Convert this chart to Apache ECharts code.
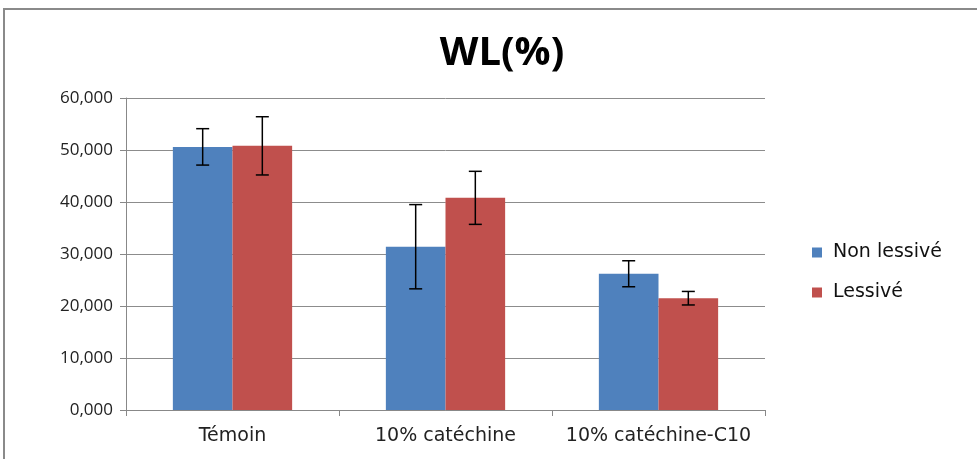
<!DOCTYPE html>
<html>
<head>
<meta charset="utf-8">
<script src="https://cdn.jsdelivr.net/npm/echarts@6/dist/echarts.min.js"></script>
<style>
  html, body { margin: 0; padding: 0; background: #fff; }
  #chart { width: 977px; height: 459px; }
</style>
</head>
<body>
<div id="chart"></div>
<script>
// données
const categories = ['Témoin', '10% catéchine', '10% catéchine-C10'];
const nonLessive = [50.6, 31.4, 26.2];
const lessive = [50.8, 40.8, 21.5];
const nonLessiveErr = [3.5, 8.1, 2.5];
const lessiveErr = [5.6, 5.1, 1.3];
const yTicks = [0, 10, 20, 30, 40, 50, 60];

const FONT = '"Open Sans", "Noto Sans", sans-serif';
const WIDE = '"DejaVu Sans", sans-serif';
const GAP = 0.44; // barCategoryGap

// barres d'erreur (custom series)
function errorSeries(name, values, errs, side) {
  return {
    type: 'custom',
    name: name + '-err',
    z: 10,
    data: values.map((v, i) => [i, v - errs[i], v + errs[i]]),
    renderItem: function (params, api) {
      const band = api.size([1, 0])[0];
      const barW = band * (1 - GAP) / 2;
      const lo = api.coord([api.value(0), api.value(1)]);
      const hi = api.coord([api.value(0), api.value(2)]);
      const x = lo[0] + side * barW / 2;
      const cap = 6.5;
      const style = { stroke: '#000', lineWidth: 1.5 };
      return {
        type: 'group',
        children: [
          { type: 'line', shape: { x1: x, y1: hi[1], x2: x, y2: lo[1] }, style: style },
          { type: 'line', shape: { x1: x - cap, y1: hi[1], x2: x + cap, y2: hi[1] }, style: style },
          { type: 'line', shape: { x1: x - cap, y1: lo[1], x2: x + cap, y2: lo[1] }, style: style }
        ]
      };
    },
    silent: true,
    tooltip: { show: false }
  };
}

const chart = echarts.init(document.getElementById('chart'));
chart.setOption({
  animation: false,
  backgroundColor: '#fff',
  graphic: [{
    type: 'rect',
    shape: { x: 4, y: 9, width: 1000, height: 500 },
    style: { fill: 'none', stroke: '#8a8a8a', lineWidth: 2 },
    z: -1
  }],
  title: {
    text: 'WL(%)',
    left: 497,
    top: 29,
    textAlign: 'center',
    textStyle: { fontFamily: FONT, fontSize: 40, fontWeight: 'bold', color: '#000' }
  },
  legend: {
    orient: 'vertical',
    left: 807,
    top: 238,
    itemWidth: 10,
    itemHeight: 10,
    itemGap: 21,
    icon: 'rect',
    data: ['Non lessivé', 'Lessivé'],
    textStyle: { fontFamily: WIDE, fontSize: 19, color: '#111', padding: [0, 0, 0, 6] }
  },
  grid: { left: 126, right: 212, top: 98, bottom: 49 },
  xAxis: {
    type: 'category',
    data: categories,
    axisLine: { lineStyle: { color: '#888' } },
    axisTick: { show: true, interval: 0, length: 6, lineStyle: { color: '#888' } },
    axisLabel: { interval: 0, fontFamily: WIDE, fontSize: 19, color: '#222', margin: 17 }
  },
  yAxis: {
    type: 'value',
    min: yTicks[0],
    max: yTicks[yTicks.length - 1],
    interval: 10,
    axisLine: { show: true, lineStyle: { color: '#888' } },
    axisTick: { show: true, length: 6, lineStyle: { color: '#888' } },
    splitLine: { lineStyle: { color: '#8c8c8c' } },
    axisLabel: {
      fontFamily: FONT, fontSize: 17, color: '#222', margin: 13,
      formatter: v => v.toFixed(3).replace('.', ',')
    }
  },
  series: [
    {
      name: 'Non lessivé', type: 'bar', data: nonLessive,
      barGap: '0%', barCategoryGap: (GAP * 100) + '%',
      itemStyle: { color: '#4f81bd' }
    },
    {
      name: 'Lessivé', type: 'bar', data: lessive,
      barGap: '0%', barCategoryGap: (GAP * 100) + '%',
      itemStyle: { color: '#c0504d' }
    },
    errorSeries('Non lessivé', nonLessive, nonLessiveErr, -1),
    errorSeries('Lessivé', lessive, lessiveErr, 1)
  ]
});
</script>
</body>
</html>
